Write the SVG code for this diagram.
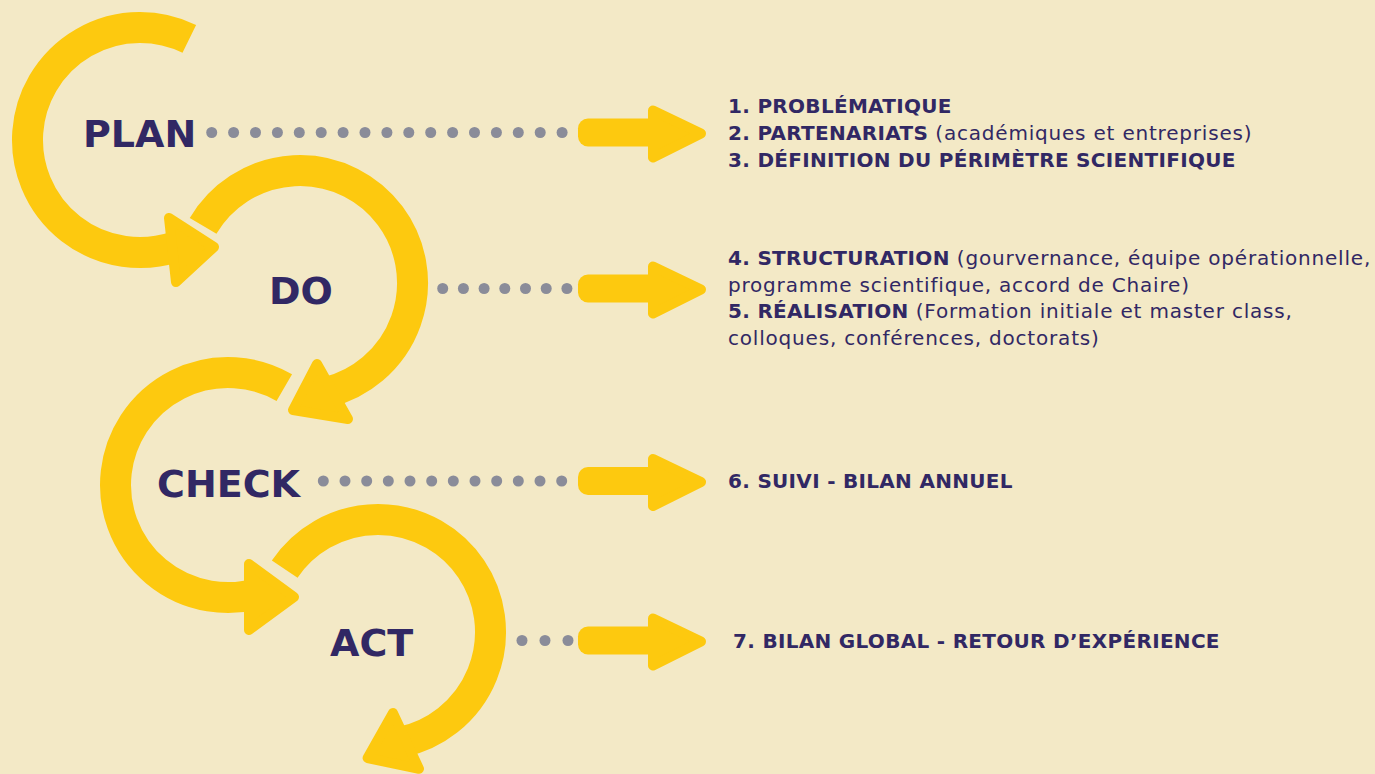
<svg xmlns="http://www.w3.org/2000/svg" width="1375" height="774" viewBox="0 0 1375 774">
<style>
.ring{fill:none;stroke:#FDC90F;stroke-width:31;stroke-linecap:butt}
.head{fill:#FDC90F;stroke:#FDC90F;stroke-width:10;stroke-linejoin:round}
.stage{font-family:"DejaVu Sans","Liberation Sans",sans-serif;font-weight:bold;font-size:38px;fill:#312864}
.dot{fill:#8A8C99}
.desc{font-family:"DejaVu Sans","Liberation Sans",sans-serif;font-size:20px;fill:#312864;letter-spacing:0.8px}
.b{font-weight:bold;letter-spacing:0.3px}
</style>
<defs>
<g id="harrow">
<rect x="578" y="-14" width="80" height="28" rx="10" fill="#FDC90F"/>
<polygon class="head" points="653,-22 701,1 653,25"/>
</g>
</defs>
<rect width="1375" height="774" fill="#F3E9C6"/>

<g id="cycle">
<g id="arc-plan">
<path class="ring" d="M189.3,38.9 A112.5,112.5 0 1 0 174.8,247.0"/>
<polygon class="head" points="169,218 214,247 176,282"/>
</g>
<g id="arc-do">
<path class="ring" d="M203.1,225.9 A112.5,112.5 0 1 1 327.2,392.2"/>
<polygon class="head" points="317,364 293,410 348,419"/>
</g>
<g id="arc-check">
<path class="ring" d="M284.3,387.6 A112.5,112.5 0 1 0 260.9,592.6"/>
<polygon class="head" points="249,564 294,597 249,630"/>
</g>
<g id="arc-act">
<path class="ring" d="M284.7,569.1 A112.5,112.5 0 1 1 401.4,742.0"/>
<polygon class="head" points="393,713 367.6,758 419,768.8"/>
</g>
</g>

<g id="stage-plan"><text class="stage" x="83" y="147">PLAN</text></g>
<g id="stage-do"><text class="stage" x="269" y="304">DO</text></g>
<g id="stage-check"><text class="stage" x="157" y="497">CHECK</text></g>
<g id="stage-act"><text class="stage" x="330" y="656">ACT</text></g>

<g id="connectors">
<g id="conn-plan">
<circle class="dot" cx="211.7" cy="132.5" r="5.5"/><circle class="dot" cx="233.6" cy="132.5" r="5.5"/><circle class="dot" cx="255.5" cy="132.5" r="5.5"/><circle class="dot" cx="277.4" cy="132.5" r="5.5"/><circle class="dot" cx="299.3" cy="132.5" r="5.5"/><circle class="dot" cx="321.2" cy="132.5" r="5.5"/><circle class="dot" cx="343.1" cy="132.5" r="5.5"/><circle class="dot" cx="365.0" cy="132.5" r="5.5"/><circle class="dot" cx="386.9" cy="132.5" r="5.5"/><circle class="dot" cx="408.8" cy="132.5" r="5.5"/><circle class="dot" cx="430.7" cy="132.5" r="5.5"/><circle class="dot" cx="452.6" cy="132.5" r="5.5"/><circle class="dot" cx="474.5" cy="132.5" r="5.5"/><circle class="dot" cx="496.4" cy="132.5" r="5.5"/><circle class="dot" cx="518.3" cy="132.5" r="5.5"/><circle class="dot" cx="540.2" cy="132.5" r="5.5"/><circle class="dot" cx="562.1" cy="132.5" r="5.5"/>
<use href="#harrow" transform="translate(0,132.5)"/>
</g>
<g id="conn-do">
<circle class="dot" cx="442.7" cy="288.5" r="5.5"/><circle class="dot" cx="463.4" cy="288.5" r="5.5"/><circle class="dot" cx="484.1" cy="288.5" r="5.5"/><circle class="dot" cx="504.8" cy="288.5" r="5.5"/><circle class="dot" cx="525.5" cy="288.5" r="5.5"/><circle class="dot" cx="546.2" cy="288.5" r="5.5"/><circle class="dot" cx="566.9" cy="288.5" r="5.5"/>
<use href="#harrow" transform="translate(0,288.5)"/>
</g>
<g id="conn-check">
<circle class="dot" cx="323.3" cy="481" r="5.5"/><circle class="dot" cx="345.0" cy="481" r="5.5"/><circle class="dot" cx="366.7" cy="481" r="5.5"/><circle class="dot" cx="388.3" cy="481" r="5.5"/><circle class="dot" cx="410.0" cy="481" r="5.5"/><circle class="dot" cx="431.7" cy="481" r="5.5"/><circle class="dot" cx="453.3" cy="481" r="5.5"/><circle class="dot" cx="475.0" cy="481" r="5.5"/><circle class="dot" cx="496.7" cy="481" r="5.5"/><circle class="dot" cx="518.3" cy="481" r="5.5"/><circle class="dot" cx="540.0" cy="481" r="5.5"/><circle class="dot" cx="561.7" cy="481" r="5.5"/>
<use href="#harrow" transform="translate(0,481)"/>
</g>
<g id="conn-act">
<circle class="dot" cx="522" cy="640.5" r="5.5"/><circle class="dot" cx="545" cy="640.5" r="5.5"/><circle class="dot" cx="568" cy="640.5" r="5.5"/>
<use href="#harrow" transform="translate(0,640.5)"/>
</g>
</g>

<g id="desc-plan">
<text class="desc" x="728" y="113"><tspan class="b">1. PROBLÉMATIQUE</tspan></text>
<text class="desc" x="728" y="140"><tspan class="b">2. PARTENARIATS</tspan> (académiques et entreprises)</text>
<text class="desc" x="728" y="167"><tspan class="b">3. DÉFINITION DU PÉRIMÈTRE SCIENTIFIQUE</tspan></text>
</g>
<g id="desc-do">
<text class="desc" x="728" y="265"><tspan class="b">4. STRUCTURATION</tspan> (gourvernance, équipe opérationnelle,</text>
<text class="desc" x="728" y="292">programme scientifique, accord de Chaire)</text>
<text class="desc" x="728" y="318"><tspan class="b">5. RÉALISATION</tspan> (Formation initiale et master class,</text>
<text class="desc" x="728" y="345">colloques, conférences, doctorats)</text>
</g>
<g id="desc-check">
<text class="desc" x="728" y="488"><tspan class="b">6. SUIVI - BILAN ANNUEL</tspan></text>
</g>
<g id="desc-act">
<text class="desc" x="733" y="648"><tspan class="b">7. BILAN GLOBAL - RETOUR D’EXPÉRIENCE</tspan></text>
</g>
</svg>
